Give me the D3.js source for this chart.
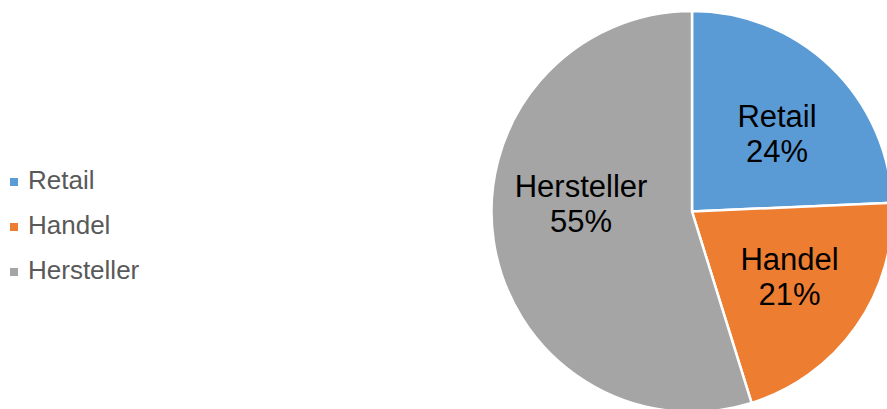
<!DOCTYPE html>
<html>
<head>
<meta charset="utf-8">
<script src="https://cdn.jsdelivr.net/npm/d3@7"></script>
<style>
  html, body { margin: 0; padding: 0; background: #fff; }
  svg { display: block; }
  text { font-family: "Liberation Sans", Arial, sans-serif; }
</style>
</head>
<body>
<svg id="chart" width="887" height="409"></svg>
<script>
const categories = ["Retail", "Handel", "Hersteller"];
const values = [24.3, 20.9, 54.8];
const colors = ["#5B9BD5", "#ED7D31", "#A5A5A5"];

const svg = d3.select("#chart");
const cx = 692, cy = 211.5, R = 200.5;

const data = categories.map((c, i) => ({ name: c, value: values[i], color: colors[i] }));
const total = d3.sum(values);

const pie = d3.pie().sort(null).value(d => d.value).startAngle(0).endAngle(2 * Math.PI);
const arcs = pie(data);
const arc = d3.arc().innerRadius(0).outerRadius(R);
const labelArc = d3.arc().innerRadius(R * 0.58).outerRadius(R * 0.58);
// layout nudges (best-fit style label placement)
const nudge = { "Retail": [4.6, 5.7], "Handel": [2.4, -1.9], "Hersteller": [4, -25.4] };

const g = svg.append("g").attr("transform", `translate(${cx},${cy})`);

g.selectAll("path.slice")
  .data(arcs)
  .join("path")
  .attr("class", "slice")
  .attr("d", arc)
  .attr("fill", d => d.data.color)
  .attr("stroke", "#fff")
  .attr("stroke-width", 2.5)
  .attr("stroke-linejoin", "round");

const fmt = v => Math.round(v / total * 100) + "%";

const labels = g.selectAll("g.lbl")
  .data(arcs)
  .join("g")
  .attr("class", "lbl")
  .attr("transform", d => {
    const [x, y] = labelArc.centroid(d);
    const [nx, ny] = nudge[d.data.name];
    return `translate(${x + nx},${y + ny})`;
  });

labels.append("text")
  .attr("text-anchor", "middle")
  .attr("y", -6.5)
  .attr("font-size", 31)
  .attr("fill", "#000")
  .text(d => d.data.name);

labels.append("text")
  .attr("text-anchor", "middle")
  .attr("y", 28.5)
  .attr("font-size", 31)
  .attr("fill", "#000")
  .text(d => fmt(d.data.value));

// Legend
const legendY = d3.scalePoint().domain(categories).range([189, 279]);
const legend = svg.append("g");
const items = legend.selectAll("g")
  .data(data)
  .join("g")
  .attr("transform", d => `translate(0,${legendY(d.name)})`);

items.append("rect")
  .attr("x", 10)
  .attr("y", -11)
  .attr("width", 8)
  .attr("height", 8)
  .attr("fill", d => d.color);

items.append("text")
  .attr("x", 28)
  .attr("y", 0)
  .attr("font-size", 26)
  .attr("fill", "#595959")
  .text(d => d.name);
</script>
</body>
</html>
